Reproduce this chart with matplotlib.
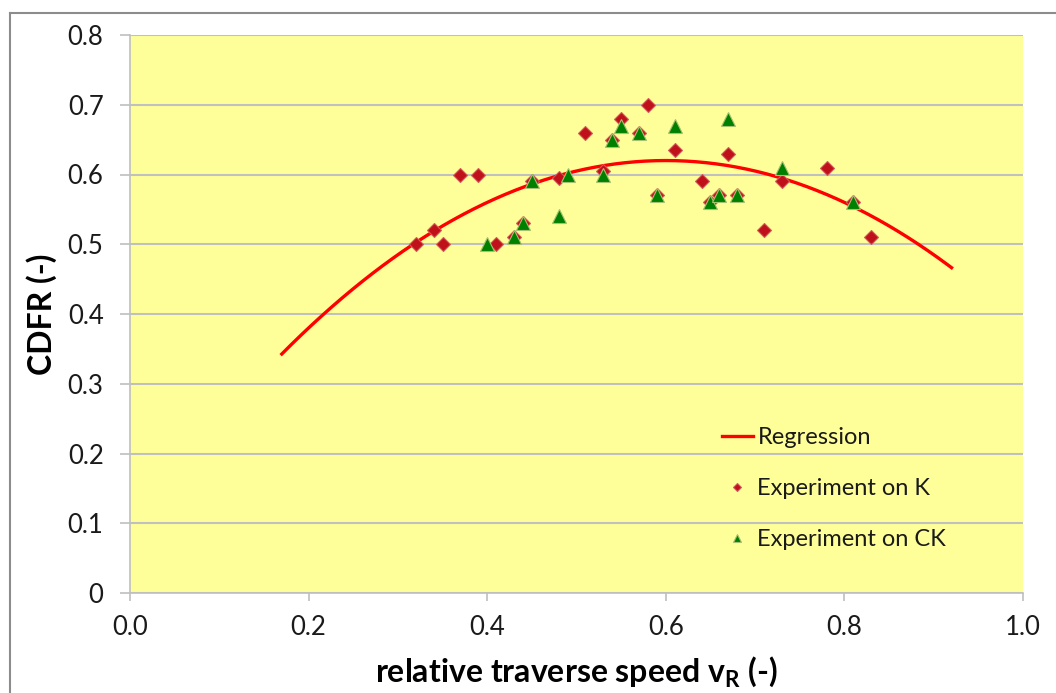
import numpy as np
import matplotlib
matplotlib.use("Agg")
import matplotlib.pyplot as plt
from matplotlib.lines import Line2D

# ---- data ----
k_x = [0.32, 0.34, 0.35, 0.37, 0.39, 0.41, 0.43, 0.44, 0.45, 0.48, 0.51, 0.53, 0.54, 0.55,
       0.57, 0.58, 0.59, 0.61, 0.64, 0.65, 0.66, 0.67, 0.68, 0.71, 0.73, 0.78, 0.81, 0.83]
k_y = [0.50, 0.52, 0.50, 0.60, 0.60, 0.50, 0.51, 0.53, 0.59, 0.595, 0.66, 0.605, 0.65, 0.68,
       0.66, 0.70, 0.57, 0.635, 0.59, 0.56, 0.57, 0.63, 0.57, 0.52, 0.59, 0.61, 0.56, 0.51]
ck_x = [0.40, 0.43, 0.44, 0.45, 0.48, 0.49, 0.53, 0.54, 0.55, 0.57, 0.59, 0.61, 0.65, 0.66,
        0.67, 0.68, 0.73, 0.81]
ck_y = [0.50, 0.51, 0.53, 0.59, 0.54, 0.60, 0.60, 0.65, 0.67, 0.66, 0.57, 0.67, 0.56, 0.57,
        0.68, 0.57, 0.61, 0.56]
# regression: quadratic y = peak_y + curv*(x - peak_x)^2 over its range
reg_x_range = [0.17, 0.92]
reg_peak_x = 0.60
reg_peak_y = 0.62
reg_curv = -1.5

x_ticks = [0.0, 0.2, 0.4, 0.6, 0.8, 1.0]
x_ticklabels = ["0.0", "0.2", "0.4", "0.6", "0.8", "1.0"]
y_ticks = [0.0, 0.1, 0.2, 0.3, 0.4, 0.5, 0.6, 0.7, 0.8]
y_ticklabels = ["0", "0.1", "0.2", "0.3", "0.4", "0.5", "0.6", "0.7", "0.8"]

plt.rcParams['font.family'] = ['Lato', 'DejaVu Sans']

W, H = 1056, 693
fig = plt.figure(figsize=(W / 100, H / 100), dpi=100)
fig.patch.set_facecolor("white")

# outer chart border (extends beyond the image at right/bottom)
fig.add_artist(Line2D([10 / W, 10 / W], [1 - 13 / H, 0], transform=fig.transFigure,
                      color="#8c8c8c", lw=1.5))
fig.add_artist(Line2D([10 / W, 1], [1 - 13 / H, 1 - 13 / H], transform=fig.transFigure,
                      color="#8c8c8c", lw=1.5))

ax = fig.add_axes([130 / W, 1 - 593 / H, (1023 - 130) / W, (593 - 35) / H])
ax.set_facecolor("#FFFF99")
ax.set_xlim(0, 1)
ax.set_ylim(0, 0.8)

ax.set_yticks(y_ticks)
ax.set_yticklabels(y_ticklabels)
ax.set_xticks(x_ticks)
ax.set_xticklabels(x_ticklabels)
ax.grid(axis="y", color="#c0c0c0", lw=1.5, zorder=0)
ax.set_axisbelow(True)

for s in ["top", "right"]:
    ax.spines[s].set_visible(False)
for s in ["left", "bottom"]:
    ax.spines[s].set_color("#bfbfbf")
    ax.spines[s].set_linewidth(1.2)

ax.tick_params(axis="y", length=7, width=1.2, color="#bfbfbf", pad=12, labelsize=18.5,
               labelcolor="#1a1a1a")
ax.tick_params(axis="x", length=6, width=1.2, color="#bfbfbf", pad=10, labelsize=18.5,
               labelcolor="#1a1a1a")

xr = np.linspace(reg_x_range[0], reg_x_range[1], 200)
yr = reg_peak_y + reg_curv * (xr - reg_peak_x) ** 2
ax.plot(xr, yr, color="#ff0000", lw=2.4, zorder=3, label="Regression")

ax.plot(k_x, k_y, linestyle="none", marker="D", ms=7.5, mfc="#c0101a",
        mec="#d05a5a", mew=0.8, zorder=4, label="Experiment on K")
ax.plot(ck_x, ck_y, linestyle="none", marker="^", ms=9.5, mfc="#008000",
        mec="#a8c070", mew=0.8, zorder=5, label="Experiment on CK")

leg = ax.legend(loc="upper left", bbox_to_anchor=(722 / W, 1 - 427 / H),
                bbox_transform=fig.transFigure, frameon=False, fontsize=17,
                handlelength=1.3, handletextpad=0.2, labelspacing=1.27,
                borderpad=0, borderaxespad=0, markerscale=0.6)
for t in leg.get_texts():
    t.set_color("#1a1a1a")

ax.set_ylabel("CDFR (-)", fontsize=23, fontweight="bold", labelpad=8)
ax.set_xlabel(r"relative traverse speed v$_\mathregular{R}$ (-)", fontsize=23,
              fontweight="bold", labelpad=10)

fig.savefig("out.png", dpi=100)
